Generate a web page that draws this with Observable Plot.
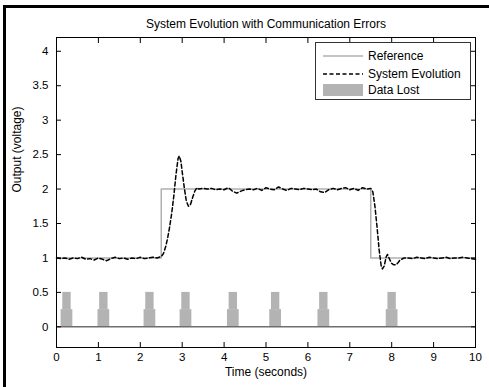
<!DOCTYPE html>
<html><head><meta charset="utf-8">
<script src="https://cdn.jsdelivr.net/npm/d3@7"></script>
<script src="https://cdn.jsdelivr.net/npm/@observablehq/plot@0.6"></script>
<style>
body{margin:0;background:#fff;}
#wrap{position:relative;width:489px;height:387px;overflow:hidden;font-family:"Liberation Sans",Arial,sans-serif;background:#fff;}
#chart{position:absolute;left:0;top:0;}
#border{position:absolute;left:3px;top:5px;right:-10px;bottom:-10px;border-top:3px solid #000;border-left:3px solid #000;pointer-events:none;}
#legend{position:absolute;left:315px;top:42px;width:154px;height:56px;border:1px solid #333;background:#fff;font-size:12px;color:#000;}
.row{position:absolute;left:7px;height:16px;display:flex;align-items:center;white-space:nowrap;}
.row svg{margin-right:5px;}
</style></head><body>
<div id="wrap"><div id="chart"></div><div id="border"></div><div id="legend"></div></div>
<script>
const title = "System Evolution with Communication Errors";
const xLabel = "Time (seconds)";
const yLabel = "Output (voltage)";
const xTicks = [0,1,2,3,4,5,6,7,8,9,10];
const yTicks = [0,0.5,1,1.5,2,2.5,3,3.5,4];
const seriesNames = ["Reference", "System Evolution", "Data Lost"];

// Reference (step) signal
const refTime  = [0, 2.5, 7.5, 10];
const refValue = [1, 2, 1, 1];

// System evolution (noisy response)
const sysTime = [
  0,0.1,0.2,0.3,0.4,0.5,0.6,0.7,0.8,0.9,1.0,1.1,1.2,1.3,1.4,1.5,1.6,1.7,1.8,1.9,2.0,2.1,2.2,2.3,2.4,
  2.5,2.55,2.6,2.65,2.7,2.75,2.8,2.85,2.9,2.93,2.97,3.0,3.05,3.1,3.15,3.2,3.25,3.3,3.35,3.4,
  3.5,3.6,3.7,3.8,3.9,4.0,4.1,4.2,4.3,4.4,4.5,4.6,4.7,4.8,4.9,5.0,5.1,5.2,5.3,5.4,5.5,5.6,5.7,5.8,5.9,
  6.0,6.1,6.2,6.3,6.4,6.5,6.6,6.7,6.8,6.9,7.0,7.1,7.2,7.3,7.4,7.5,
  7.55,7.6,7.65,7.7,7.75,7.78,7.82,7.87,7.9,7.95,8.0,8.05,8.1,8.15,8.2,8.3,
  8.4,8.5,8.6,8.7,8.8,8.9,9.0,9.1,9.2,9.3,9.4,9.5,9.6,9.7,9.8,9.9,10
];
const sysValue = [
  1.00,0.99,1.00,0.98,1.00,0.99,1.01,0.98,0.99,0.97,1.00,0.98,0.96,0.99,1.01,0.99,1.00,0.98,1.00,0.99,1.01,0.99,1.00,1.01,1.00,
  1.02,1.06,1.15,1.28,1.45,1.65,1.90,2.20,2.44,2.48,2.40,2.25,2.02,1.82,1.75,1.78,1.88,1.97,2.02,2.00,
  2.01,2.00,2.01,1.99,2.00,1.99,2.02,1.97,1.94,1.97,1.99,2.00,1.99,2.01,1.98,2.02,2.00,1.99,2.03,2.00,1.98,2.01,2.00,1.99,2.01,
  2.00,1.99,2.00,1.96,1.95,1.99,2.01,1.99,2.01,2.02,1.99,2.01,1.98,2.02,2.00,2.01,
  1.96,1.75,1.45,1.12,0.88,0.84,0.88,1.02,1.05,0.98,0.92,0.90,0.90,0.93,0.97,1.00,
  1.00,0.99,1.01,1.00,0.99,1.01,1.00,0.99,1.00,1.01,0.99,1.00,1.00,1.01,1.00,0.99,0.98
];

// Data-lost intervals (centre times) and level
const lossTimes = [0.25, 1.13, 2.23, 3.09, 4.22, 5.23, 6.38, 8.01];
const lossLevel = 0.5;

const refData = refTime.map((t, i) => ({t, v: refValue[i]}));
const sysData = sysTime.map((t, i) => ({t, v: sysValue[i]}));
const lossWide = 0.14, lossNarrow = 0.10;

const font = "Liberation Sans, Arial, sans-serif";
const fmt = d => String(d);
const chart = Plot.plot({
  width: 489, height: 387,
  marginLeft: 56, marginRight: 14, marginTop: 37, marginBottom: 40,
  style: {fontFamily: font, fontSize: "11px", background: "transparent", color: "#000", overflow: "visible"},
  x: {domain: [0, 10]},
  y: {domain: [-0.3, 4.2]},
  marks: [
    Plot.rect(lossTimes, {x1: t => t - lossWide, x2: t => t + lossWide, y1: 0, y2: lossLevel / 2, fill: "#b3b3b3"}),
    Plot.rect(lossTimes, {x1: t => t - lossNarrow, x2: t => t + lossNarrow, y1: lossLevel / 2, y2: lossLevel, fill: "#b3b3b3"}),
    Plot.ruleY([0], {stroke: "#6e6e6e", strokeWidth: 1.5}),
    Plot.line(refData, {x: "t", y: "v", curve: "step-after", stroke: "#b0b0b0", strokeWidth: 1.5}),
    Plot.line(sysData, {x: "t", y: "v", stroke: "#000", strokeWidth: 1.5, strokeDasharray: "4,2.5"}),
    Plot.frame({stroke: "#000"}),
    Plot.axisX(xTicks, {anchor: "bottom", tickSize: -5, tickPadding: 10, tickFormat: fmt, label: null, fontSize: 11.5}),
    Plot.axisX(xTicks, {anchor: "top", tickSize: -5, tickFormat: () => "", label: null}),
    Plot.axisY(yTicks, {anchor: "left", tickSize: -5, tickPadding: 13, tickFormat: fmt, label: null, fontSize: 11.5}),
    Plot.axisY(yTicks, {anchor: "right", tickSize: -5, tickFormat: () => "", label: null}),
    Plot.text([title], {frameAnchor: "top", dy: -18, fontSize: 12}),
    Plot.text([xLabel], {frameAnchor: "bottom", dy: 28, fontSize: 12}),
    Plot.text([yLabel], {frameAnchor: "left", dx: -39, rotate: -90, fontSize: 12})
  ]
});
document.getElementById("chart").appendChild(chart);

// Legend
const legend = document.getElementById("legend");
const swatches = [
  `<svg width="40" height="12"><line x1="0" x2="40" y1="6" y2="6" stroke="#b0b0b0" stroke-width="1.5"/></svg>`,
  `<svg width="40" height="12"><line x1="0" x2="40" y1="6" y2="6" stroke="#000" stroke-width="1.5" stroke-dasharray="4,2.5"/></svg>`,
  `<svg width="40" height="12"><rect x="0" y="0" width="40" height="12" fill="#b3b3b3"/></svg>`
];
const rowTops = [5, 22.5, 39];
seriesNames.forEach((name, i) => {
  const row = document.createElement("div");
  row.className = "row";
  row.style.top = rowTops[i] + "px";
  row.innerHTML = swatches[i] + `<span>${name}</span>`;
  legend.appendChild(row);
});
</script>
</body></html>
